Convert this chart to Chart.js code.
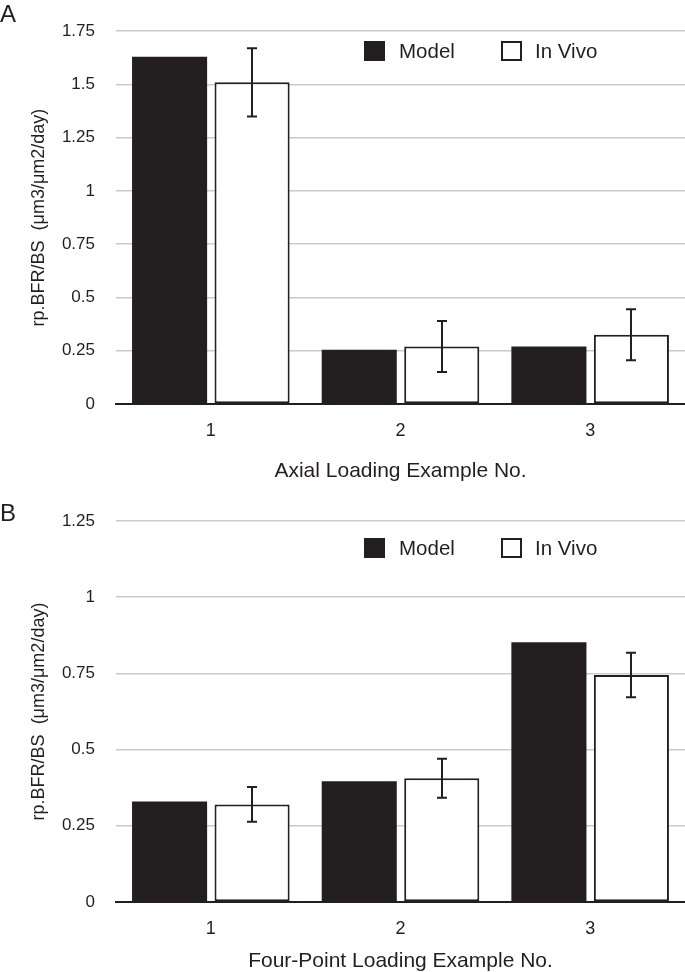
<!DOCTYPE html>
<html><head><meta charset="utf-8">
<script src="https://cdn.jsdelivr.net/npm/chart.js@4"></script>
<style>
body{margin:0;background:#fff;font-family:"Liberation Sans",Arial,Helvetica,sans-serif;color:#231f20;}
#wrap{position:relative;width:685px;height:972px;overflow:hidden;background:#fff}
.panel{position:absolute;left:0;width:685px;height:486px}
.letter{position:absolute;left:0;font-size:24px;line-height:24px}
.lg{position:absolute;font-size:20.5px;line-height:20px;white-space:nowrap}
.sw{position:absolute;width:21px;height:20px;box-sizing:border-box}
</style>
</head><body>
<div id="wrap">
  <div class="panel" style="top:0"><canvas id="cA" width="685" height="486"></canvas></div>
  <div class="panel" style="top:486px"><canvas id="cB" width="685" height="486"></canvas></div>
  <div class="letter" style="top:2px">A</div>
  <div class="letter" style="top:501px">B</div>
  <div id="legA"></div>
  <div id="legB"></div>
</div>
<script>
// ---- data ----
const categories = ['1', '2', '3'];
const seriesNames = ['Model', 'In Vivo'];
const axialModel = [1.63, 0.255, 0.27];
const axialInVivo = [1.51, 0.27, 0.325];
const axialInVivoErr = [0.16, 0.12, 0.12];
const fourPointModel = [0.33, 0.396, 0.852];
const fourPointInVivo = [0.32, 0.406, 0.745];
const fourPointInVivoErr = [0.057, 0.064, 0.073];
const axialYTicks = ['0', '0.25', '0.5', '0.75', '1', '1.25', '1.5', '1.75'];
const fourPointYTicks = ['0', '0.25', '0.5', '0.75', '1', '1.25'];
const yAxisTitle = 'rp.BFR/BS  (\u03bcm3/\u03bcm2/day)';
const axialXTitle = 'Axial Loading Example No.';
const fourPointXTitle = 'Four-Point Loading Example No.';

const INK = '#231f20';
const FONT = '"Liberation Sans", Arial, Helvetica, sans-serif';

const errorBars = {
  id: 'errorBars',
  afterDatasetsDraw(chart, args, opts) {
    const meta = chart.getDatasetMeta(1);
    const ys = chart.scales.y;
    const ctx = chart.ctx;
    const vals = chart.data.datasets[1].data;
    ctx.save();
    ctx.strokeStyle = INK;
    ctx.lineWidth = 2;
    meta.data.forEach((bar, i) => {
      const v = vals[i], e = opts.errors[i];
      const x = Math.round(bar.x);
      const yT = ys.getPixelForValue(v + e), yB = ys.getPixelForValue(v - e);
      ctx.beginPath();
      ctx.moveTo(x, yT); ctx.lineTo(x, yB);
      ctx.moveTo(x - 5, yT); ctx.lineTo(x + 5, yT);
      ctx.moveTo(x - 5, yB); ctx.lineTo(x + 5, yB);
      ctx.stroke();
    });
    ctx.restore();
  }
};

function makeChart(id, model, invivo, err, yTicks, xTitle, cfg) {
  const yMax = Number(yTicks[yTicks.length - 1]);
  return new Chart(document.getElementById(id), {
    type: 'bar',
    data: {
      labels: categories,
      datasets: [
        { label: seriesNames[0], data: model, backgroundColor: INK, borderWidth: 0,
          categoryPercentage: 0.87, barPercentage: 0.91 },
        { label: seriesNames[1], data: invivo, backgroundColor: '#ffffff', borderColor: INK,
          borderWidth: 2, borderSkipped: false, categoryPercentage: 0.87, barPercentage: 0.91 }
      ]
    },
    options: {
      responsive: false,
      animation: false,
      layout: { padding: { top: cfg.top, left: 0, right: 0, bottom: 0 } },
      plugins: {
        legend: { display: false },
        tooltip: { enabled: false },
        errorBars: { errors: err }
      },
      scales: {
        x: {
          grid: { display: false, drawTicks: false },
          border: { display: true, color: INK, width: 2 },
          ticks: { padding: 16, color: INK, font: { family: FONT, size: 18 } },
          title: { display: true, text: xTitle, color: INK,
                   font: { family: FONT, size: 21, lineHeight: 1 },
                   padding: { top: 0, bottom: cfg.titlePad } },
          afterFit(s) { s.height = cfg.xHeight; }
        },
        y: {
          min: 0, max: yMax,
          grid: { color: '#cbcbcb', lineWidth: 1.5, drawTicks: false },
          border: { display: false },
          ticks: { stepSize: 0.25, padding: 21, color: INK, font: { family: FONT, size: 17 },
                   callback: (v) => yTicks.find(t => Math.abs(Number(t) - v) < 1e-9) },
          title: { display: true, text: yAxisTitle, color: INK,
                   font: { family: FONT, size: 18 }, padding: { top: 28, bottom: 0 } },
          afterFit(s) { s.width = 116; }
        }
      }
    },
    plugins: [errorBars]
  });
}

makeChart('cA', axialModel, axialInVivo, axialInVivoErr, axialYTicks, axialXTitle,
  { top: 23, xHeight: 82, titlePad: 4.5 });
makeChart('cB', fourPointModel, fourPointInVivo, fourPointInVivoErr, fourPointYTicks, fourPointXTitle,
  { top: 35, xHeight: 70, titlePad: 0 });

function legend(elId, top) {
  const el = document.getElementById(elId);
  const items = [
    { name: seriesNames[0], box: 364, text: 399, style: 'background:' + INK },
    { name: seriesNames[1], box: 501, text: 535, style: 'background:#fff;border:2px solid ' + INK }
  ];
  items.forEach(it => {
    const sw = document.createElement('div');
    sw.className = 'sw';
    sw.style.cssText = 'left:' + it.box + 'px;top:' + top + 'px;' + it.style;
    el.appendChild(sw);
    const tx = document.createElement('div');
    tx.className = 'lg';
    tx.style.cssText = 'left:' + it.text + 'px;top:' + top + 'px;';
    tx.textContent = it.name;
    el.appendChild(tx);
  });
}
legend('legA', 41);
legend('legB', 538);
</script>
</body></html>
